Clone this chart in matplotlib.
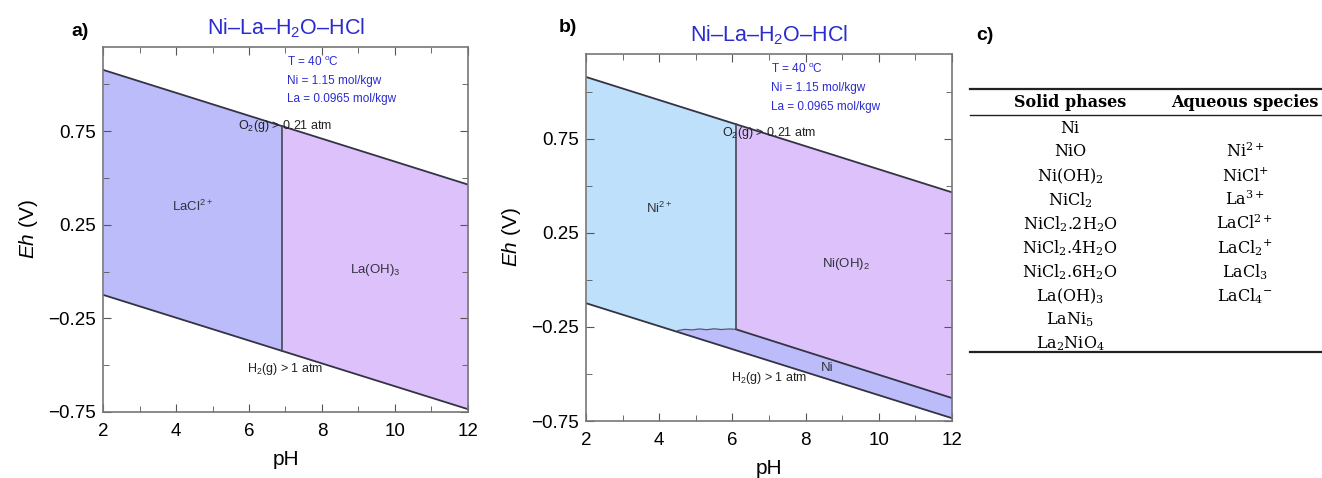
import numpy as np
import matplotlib.pyplot as plt
from matplotlib.ticker import MultipleLocator

plt.rcParams['font.family'] = ['Liberation Sans', 'DejaVu Sans']
plt.rcParams['mathtext.fontset'] = 'custom'
plt.rcParams['mathtext.rm'] = 'Liberation Sans'
plt.rcParams['mathtext.it'] = 'Liberation Sans:italic'

# water stability limits (pH, Eh)
ph_ends = [2, 12]
o2_line = [1.078, 0.465]
h2_line = [-0.124, -0.735]

# panel a: LaCl2+ / La(OH)3 boundary
a_boundary_ph = 6.9

# panel b: Ni2+ / Ni(OH)2 boundary and Ni field
b_boundary_ph = 6.1
ni_top_ph = [4.5, 4.7, 4.9, 5.1, 5.3, 5.5, 5.7, 5.9, 6.1]
ni_top_eh = [-0.270, -0.263, -0.266, -0.261, -0.265, -0.260, -0.264, -0.261, -0.263]
ni_oh2_ph = [6.1, 12]
ni_oh2_eh = [-0.263, -0.628]

title = 'Ni\u2013La\u2013H$_2$O\u2013HCl'
conditions = ['T = 40 $^{\\rm o}$C', 'Ni = 1.15 mol/kgw', 'La = 0.0965 mol/kgw']

solid_phases = ['Ni', 'NiO', r'Ni(OH)$_2$', r'NiCl$_2$', r'NiCl$_2$.2H$_2$O',
                r'NiCl$_2$.4H$_2$O', r'NiCl$_2$.6H$_2$O', r'La(OH)$_3$',
                r'LaNi$_5$', r'La$_2$NiO$_4$']
aqueous_species = ['', r'Ni$^{2+}$', r'NiCl$^{+}$', r'La$^{3+}$', r'LaCl$^{2+}$',
                   r'LaCl$_2$$^{+}$', r'LaCl$_3$', r'LaCl$_4$$^{-}$']

BLUE = '#bcbcfb'
PURPLE = '#dcc1fb'
LIGHTBLUE = '#bfe0fb'
TXT_BLUE = '#2b2bd0'
W, H = 1322, 478


def line_at(line, ph):
    return np.interp(ph, ph_ends, line)


def setup_axes(rect):
    l, t, r, b = rect
    ax = fig.add_axes([l / W, 1 - b / H, (r - l) / W, (b - t) / H])
    ax.set_xlim(2, 12)
    ax.set_ylim(-0.75, 1.2)
    ax.set_xticks([2, 4, 6, 8, 10, 12])
    ax.set_yticks([-0.75, -0.25, 0.25, 0.75])
    ax.set_yticklabels(['\u22120.75', '\u22120.25', '0.25', '0.75'])
    ax.xaxis.set_minor_locator(MultipleLocator(1))
    ax.yaxis.set_minor_locator(MultipleLocator(0.25))
    ax.tick_params(which='both', direction='in', top=True, right=True,
                   color='#555555', labelsize=13.5)
    ax.tick_params(axis='x', which='major', pad=8)
    ax.tick_params(axis='y', which='major', pad=5)
    ax.tick_params(which='major', length=6)
    ax.tick_params(which='minor', length=4)
    for s in ax.spines.values():
        s.set_color('#777777')
        s.set_linewidth(1.2)
    ax.set_xlabel('pH', fontsize=15, labelpad=7)
    ax.set_ylabel(r'$\it{Eh}$ (V)', fontsize=15, labelpad=6)
    ax.set_title(title, color=TXT_BLUE, fontsize=15.5, pad=9)
    for i, c in enumerate(conditions):
        ax.text(7.05, 1.12 - i * 0.1, c, color=TXT_BLUE, fontsize=8.5, va='center')
    return ax


fig = plt.figure(figsize=(W / 100, H / 100), dpi=100)

# ---- panel a
ax = setup_axes((103, 47, 468, 412))
ph = np.array([2, a_boundary_ph])
ax.fill_between(ph, line_at(h2_line, ph), line_at(o2_line, ph), color=BLUE, lw=0)
ph = np.array([a_boundary_ph, 12])
ax.fill_between(ph, line_at(h2_line, ph), line_at(o2_line, ph), color=PURPLE, lw=0)
ax.plot(ph_ends, o2_line, color='#333344', lw=1.3)
ax.plot(ph_ends, h2_line, color='#333344', lw=1.3)
ax.plot([a_boundary_ph] * 2, [line_at(h2_line, a_boundary_ph), line_at(o2_line, a_boundary_ph)],
        color='#444455', lw=1.2)
ax.text(4.45, 0.35, r'LaCl$^{2+}$', fontsize=9.5, ha='center', va='center', color='#333340')
ax.text(9.45, 0.01, r'La(OH)$_3$', fontsize=9.5, ha='center', va='center', color='#333340')
ax.text(7.0, 0.78, r'O$_2$(g) > 0.21 atm', fontsize=9, ha='center', va='center', color='#222222')
ax.text(7.0, -0.52, r'H$_2$(g) > 1 atm', fontsize=9, ha='center', va='center', color='#222222')

# ---- panel b
ax = setup_axes((586, 54, 952, 421))
ph = np.array([2, b_boundary_ph])
ax.fill_between(ph, line_at(h2_line, ph), line_at(o2_line, ph), color=LIGHTBLUE, lw=0)
ph = np.array([b_boundary_ph, 12])
ax.fill_between(ph, np.interp(ph, ni_oh2_ph, ni_oh2_eh), line_at(o2_line, ph), color=PURPLE, lw=0)
# Ni field
ph_ni = np.array(ni_top_ph + [12])
top_ni = np.array(ni_top_eh + [ni_oh2_eh[1]])
ax.fill_between(ph_ni, line_at(h2_line, ph_ni), top_ni, color=BLUE, lw=0)
ax.plot(ph_ends, o2_line, color='#333344', lw=1.3)
ax.plot(ph_ends, h2_line, color='#333344', lw=1.3)
ax.plot(ni_oh2_ph, ni_oh2_eh, color='#333344', lw=1.3)
ax.plot(ni_top_ph, ni_top_eh, color='#555577', lw=0.9)
ax.plot([b_boundary_ph] * 2, [ni_oh2_eh[0], line_at(o2_line, b_boundary_ph)],
        color='#444455', lw=1.2)
ax.text(4.0, 0.38, r'Ni$^{2+}$', fontsize=9.5, ha='center', va='center', color='#333340')
ax.text(9.1, 0.085, r'Ni(OH)$_2$', fontsize=9.5, ha='center', va='center', color='#333340')
ax.text(8.6, -0.47, 'Ni', fontsize=9.5, ha='center', va='center', color='#333340')
ax.text(7.0, 0.78, r'O$_2$(g) > 0.21 atm', fontsize=9, ha='center', va='center', color='#222222')
ax.text(7.0, -0.52, r'H$_2$(g) > 1 atm', fontsize=9, ha='center', va='center', color='#222222')

# ---- panel labels
fig.text(80 / W, 1 - 31 / H, 'a)', fontsize=14, fontweight='bold', ha='center', va='center')
fig.text(568 / W, 1 - 27 / H, 'b)', fontsize=14, fontweight='bold', ha='center', va='center')
fig.text(985 / W, 1 - 35 / H, 'c)', fontsize=14, fontweight='bold', ha='center', va='center')

# ---- panel c: table
tx = fig.add_axes([0, 0, 1, 1])
tx.set_xlim(0, W)
tx.set_ylim(H, 0)
tx.axis('off')
tx.plot([970, 1322], [89, 89], color='#222222', lw=1.6)
tx.plot([970, 1322], [115, 115], color='#222222', lw=1.0)
tx.plot([970, 1322], [352, 352], color='#222222', lw=1.6)
serif = ['DejaVu Serif']
tx.text(1070, 102, 'Solid phases', family=serif, fontsize=11.5, fontweight='bold',
        ha='center', va='center')
tx.text(1245, 102, 'Aqueous species', family=serif, fontsize=11.5, fontweight='bold',
        ha='center', va='center')
for i, s in enumerate(solid_phases):
    tx.text(1070, 128 + i * 24, s, family=serif, fontsize=11.5, ha='center', va='center',
            math_fontfamily='dejavuserif')
for i, s in enumerate(aqueous_species):
    if s:
        tx.text(1245, 128 + i * 24, s, family=serif, fontsize=11.5, ha='center', va='center',
                math_fontfamily='dejavuserif')

fig.savefig('out.png', dpi=100)
